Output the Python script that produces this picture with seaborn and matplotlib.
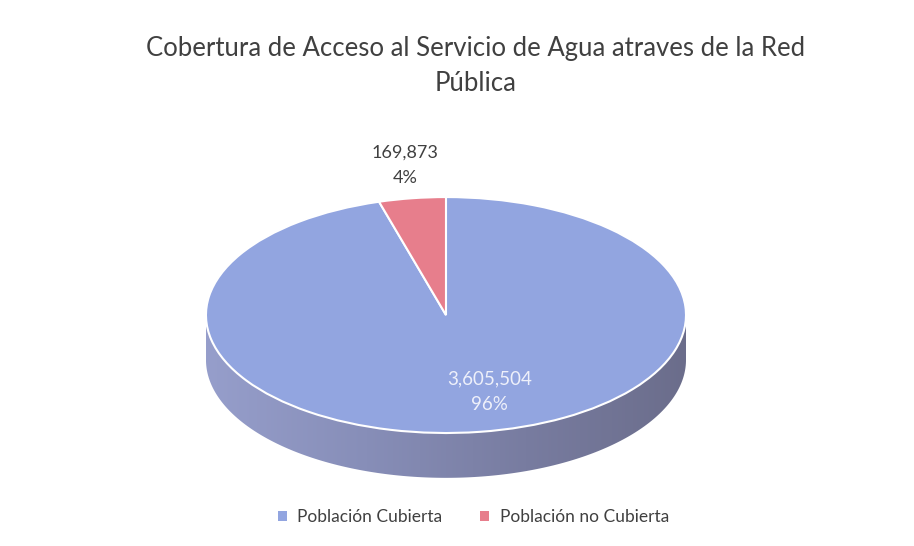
import numpy as np
import matplotlib
matplotlib.use("Agg")
import matplotlib.pyplot as plt
import seaborn as sns
from matplotlib.patches import Polygon, Patch
from matplotlib.colors import LinearSegmentedColormap

# ---- data ----
categories = ["Población Cubierta", "Población no Cubierta"]
values = [3605504, 169873]
pct_labels = ["96%", "4%"]
title = "Cobertura de Acceso al Servicio de Agua atraves de la Red\nPública"

sns.set_theme(style="white")
plt.rcParams['font.family'] = ['Lato', 'DejaVu Sans']

top_colors = ["#92a5e0", "#e77e8c"]
text_dark = "#404040"

fig = plt.figure(figsize=(9.14, 5.46), dpi=100)
fig.patch.set_facecolor("white")
ax = fig.add_axes([0.1991, 0.0773, 0.5777, 0.605])

depth = 0.38

# side of the 3D pie (front half), gradient-filled
t = np.linspace(np.pi, 2 * np.pi, 200)
upper = np.column_stack([np.cos(t), np.sin(t)])
lower = np.column_stack([np.cos(t[::-1]), np.sin(t[::-1]) - depth])
side = Polygon(np.vstack([upper, lower]), closed=True, facecolor="none",
               edgecolor="none")
ax.add_patch(side)
cmap = LinearSegmentedColormap.from_list(
    "side", ["#969ecb", "#878eb8", "#787ca0", "#6b6d8b"])
grad = np.linspace(0, 1, 256).reshape(1, -1)
img = ax.imshow(grad, extent=[-1, 1, -1 - depth, 0.02], aspect="auto",
                cmap=cmap, zorder=1)
img.set_clip_path(side)

# top face
wedges, _ = ax.pie(values, colors=top_colors, startangle=90,
                   counterclock=False, radius=1,
                   wedgeprops=dict(edgecolor="white", linewidth=1.5, zorder=2))
for w in wedges:
    w.set_zorder(2)

ax.set_aspect("auto")
ax.set_xlim(-1.1, 1.1)
ax.set_ylim(-1.6, 1.2)
ax.axis("off")

# data labels
ax.text(-0.17, 1.27, f"{values[1]:,}\n{pct_labels[1]}", ha="center",
        va="center", fontsize=13, color=text_dark, linespacing=1.75)
ax.text(0.18, -0.65, f"{values[0]:,}\n{pct_labels[0]}", ha="center",
        va="center", fontsize=13.5, color="#eef0fa", linespacing=1.65,
        zorder=5)

fig.text(0.52, 0.879, title, ha="center", va="center", fontsize=18.5,
         color=text_dark, linespacing=1.5)

handles = [Patch(facecolor=c, edgecolor="none") for c in top_colors]
fig.legend(handles, categories, loc="center", bbox_to_anchor=(0.518, 0.053),
           ncol=2, frameon=False, handlelength=0.5, handleheight=0.5,
           handletextpad=0.6, columnspacing=2.2, fontsize=12.5,
           labelcolor=text_dark)

fig.savefig("out.png", dpi=100, facecolor="white")
